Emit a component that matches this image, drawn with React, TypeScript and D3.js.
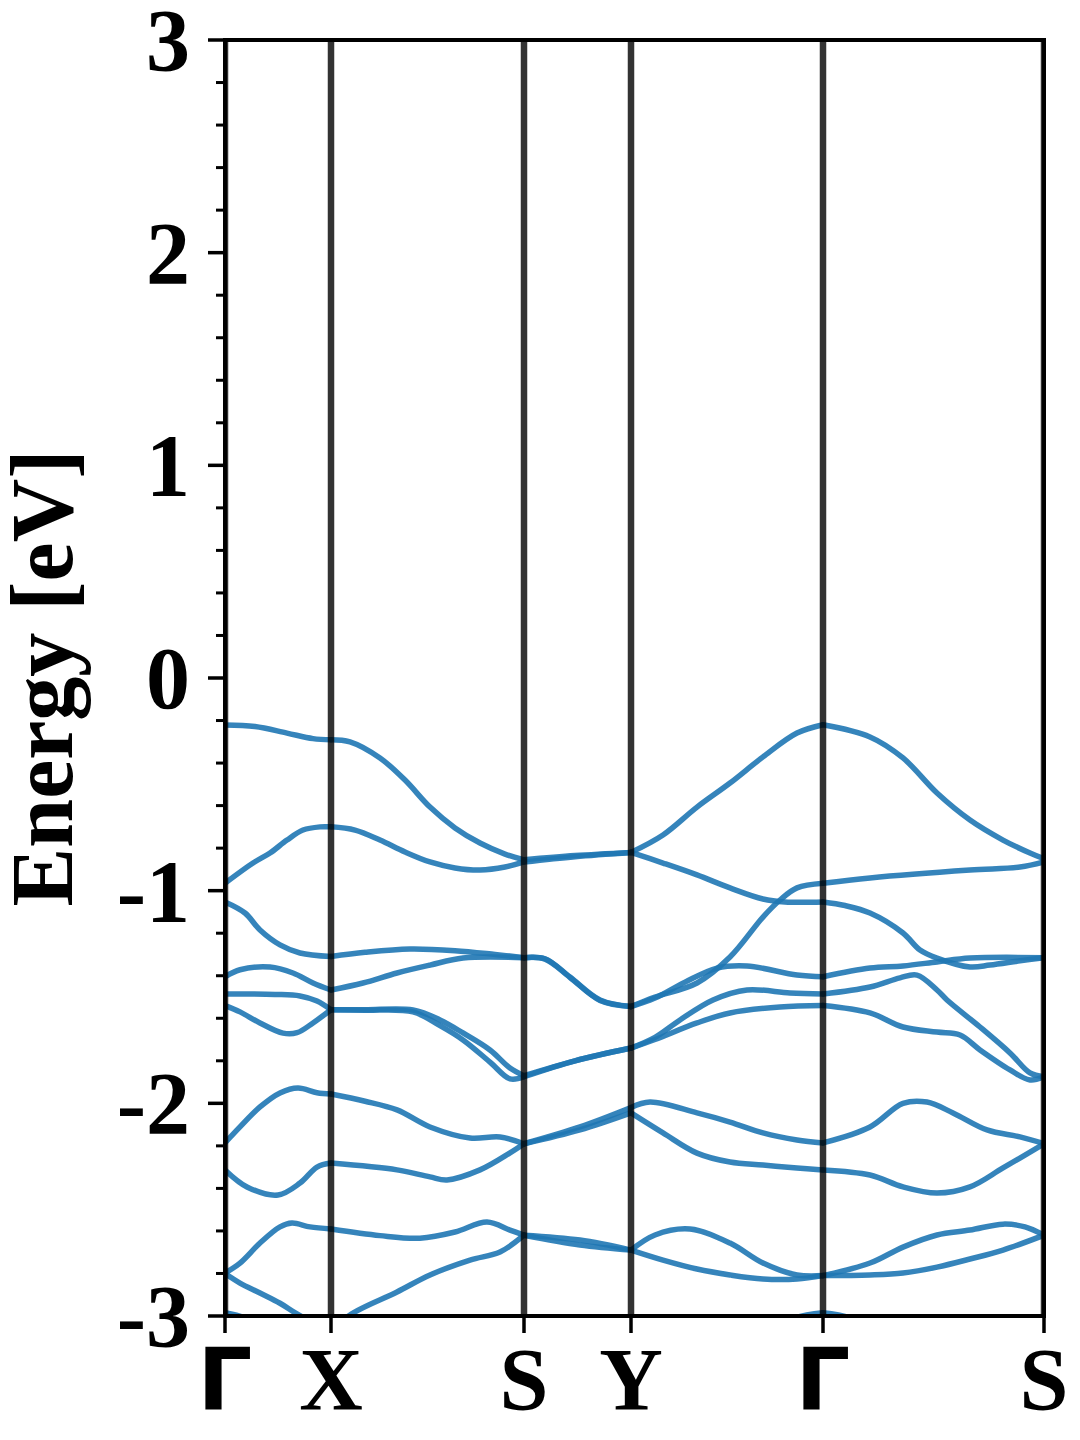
import React from 'react';
import * as d3 from 'd3';

// High-symmetry path (k distance, arbitrary units)
const kTicks = [0, 1.06, 2.99, 4.06, 5.98, 8.19];
const kLabels = ['Γ', 'X', 'S', 'Y', 'Γ', 'S'];
const yTicks = [-3, -2, -1, 0, 1, 2, 3];
const yTickLabels = ['-3', '-2', '-1', '0', '1', '2', '3'];
const yMinorTicks = [-2.8, -2.6, -2.4, -2.2, -1.8, -1.6, -1.4, -1.2, -0.8, -0.6, -0.4, -0.2,
  0.2, 0.4, 0.6, 0.8, 1.2, 1.4, 1.6, 1.8, 2.2, 2.4, 2.6, 2.8];
const yLabel = 'Energy [eV]';

// Bands: [k, E(eV)]
const band1: [number, number][] = [
  [0, -0.221], [0.3, -0.228], [0.62, -0.259], [0.88, -0.285], [1.06, -0.29],
  [1.25, -0.30], [1.55, -0.376], [1.8, -0.48], [2.05, -0.607], [2.3, -0.705], [2.55, -0.776], [2.8, -0.828], [2.99, -0.855],
  [3.5, -0.835], [4.06, -0.82],
  [4.38, -0.738], [4.72, -0.607], [5.05, -0.494], [5.38, -0.371], [5.72, -0.259], [5.98, -0.22],
  [6.45, -0.277], [6.78, -0.376], [7.12, -0.541], [7.45, -0.668], [7.78, -0.762], [8.05, -0.823], [8.19, -0.85],
];
const band2: [number, number][] = [
  [0, -0.965], [0.28, -0.87], [0.45, -0.823], [0.62, -0.762], [0.78, -0.715], [0.95, -0.70], [1.06, -0.70],
  [1.3, -0.715], [1.55, -0.762], [1.8, -0.818], [2.05, -0.865], [2.3, -0.893], [2.55, -0.903], [2.8, -0.889], [2.99, -0.865],
  [3.5, -0.84], [4.06, -0.82],
  [4.38, -0.87], [4.72, -0.926], [5.05, -0.987], [5.38, -1.039], [5.6, -1.053], [5.98, -1.053],
  [6.2, -1.07], [6.45, -1.105], [6.78, -1.199], [6.95, -1.279], [7.12, -1.317], [7.45, -1.359], [7.65, -1.35], [7.95, -1.33], [8.19, -1.315],
];
const band3: [number, number][] = [
  [0, -1.053], [0.2, -1.105], [0.35, -1.185], [0.55, -1.255], [0.75, -1.293], [1.06, -1.31],
  [1.4, -1.29], [1.85, -1.274], [2.3, -1.282], [2.7, -1.30], [2.99, -1.315],
  [3.2, -1.32], [3.45, -1.406], [3.75, -1.514], [4.06, -1.545],
  [4.3, -1.50], [4.72, -1.434], [5.05, -1.312], [5.38, -1.124], [5.55, -1.044], [5.72, -0.987], [5.98, -0.965],
  [6.45, -0.94], [7.45, -0.903], [7.95, -0.889], [8.19, -0.865],
];
const band4: [number, number][] = [
  [0, -1.405], [0.15, -1.372], [0.45, -1.359], [0.68, -1.387], [0.88, -1.434], [1.06, -1.467],
  [1.38, -1.434], [1.72, -1.387], [2.05, -1.35], [2.38, -1.317], [2.99, -1.315],
  [3.2, -1.322], [3.45, -1.408], [3.75, -1.516], [4.06, -1.545],
  [4.3, -1.505], [4.6, -1.43], [4.92, -1.364], [5.22, -1.354], [5.72, -1.397], [5.98, -1.405],
  [6.45, -1.364], [6.78, -1.354], [7.12, -1.335], [7.45, -1.317], [8.19, -1.315],
];
const band5: [number, number][] = [
  [0, -1.486], [0.5, -1.488], [0.75, -1.495], [0.92, -1.519], [1.06, -1.56],
  [1.4, -1.56], [1.88, -1.561], [2.15, -1.608], [2.38, -1.669], [2.65, -1.749], [2.85, -1.834], [2.99, -1.87],
  [3.5, -1.80], [4.06, -1.74],
  [4.3, -1.69], [4.55, -1.608], [4.88, -1.514], [5.22, -1.467], [5.65, -1.481], [5.98, -1.486],
  [6.45, -1.453], [6.75, -1.41], [6.92, -1.397], [7.12, -1.467], [7.22, -1.514], [7.55, -1.641], [7.85, -1.763], [8.05, -1.857], [8.19, -1.875],
];
const band6: [number, number][] = [
  [0, -1.54], [0.15, -1.57], [0.35, -1.622], [0.58, -1.67], [0.72, -1.668], [0.88, -1.622], [1.06, -1.56],
  [1.4, -1.562], [1.88, -1.57], [2.15, -1.635], [2.38, -1.702], [2.65, -1.806], [2.85, -1.885], [2.99, -1.875],
  [3.5, -1.80], [4.06, -1.74],
  [4.3, -1.70], [4.72, -1.622], [5.05, -1.575], [5.55, -1.547], [5.98, -1.54],
  [6.45, -1.575], [6.78, -1.641], [7.12, -1.665], [7.35, -1.679], [7.55, -1.749], [7.85, -1.843], [8.05, -1.89], [8.19, -1.875],
];
const band7: [number, number][] = [
  [0, -2.186], [0.15, -2.111], [0.35, -2.017], [0.55, -1.951], [0.73, -1.928], [0.92, -1.95], [1.06, -1.956],
  [1.4, -1.99], [1.72, -2.031], [2.05, -2.111], [2.45, -2.163], [2.75, -2.158], [2.99, -2.19],
  [3.55, -2.111], [4.06, -2.02],
  [4.25, -1.994], [4.72, -2.045], [5.05, -2.088], [5.38, -2.139], [5.72, -2.172], [5.98, -2.186],
  [6.45, -2.111], [6.78, -2.0], [7.02, -1.994], [7.28, -2.045], [7.62, -2.125], [7.95, -2.158], [8.19, -2.19],
];
const band8: [number, number][] = [
  [0, -2.313], [0.22, -2.393], [0.53, -2.431], [0.75, -2.375], [0.92, -2.30], [1.06, -2.281],
  [1.72, -2.313], [2.05, -2.346], [2.22, -2.36], [2.55, -2.313], [2.85, -2.233], [2.99, -2.19],
  [3.55, -2.125], [4.06, -2.045],
  [4.38, -2.139], [4.72, -2.234], [5.05, -2.276], [5.38, -2.29], [5.72, -2.304], [5.98, -2.313],
  [6.45, -2.337], [6.78, -2.393], [7.12, -2.422], [7.45, -2.393], [7.78, -2.304], [8.19, -2.19],
];
const band9: [number, number][] = [
  [0, -2.798], [0.15, -2.751], [0.35, -2.657], [0.55, -2.581], [0.67, -2.563], [0.85, -2.581], [1.06, -2.591],
  [1.55, -2.622], [1.95, -2.634], [2.3, -2.605], [2.62, -2.558], [2.85, -2.596], [2.99, -2.62],
  [3.55, -2.666], [4.06, -2.69],
  [4.3, -2.619], [4.65, -2.591], [5.05, -2.657], [5.38, -2.751], [5.72, -2.807], [5.98, -2.81],
  [6.45, -2.751], [6.78, -2.676], [7.12, -2.619], [7.45, -2.596], [7.78, -2.568], [8.0, -2.581], [8.19, -2.62],
];
const band10: [number, number][] = [
  [0, -2.80], [0.15, -2.845], [0.35, -2.892], [0.55, -2.94], [0.72, -2.99], [1.06, -3.08],
  [1.25, -2.995], [1.72, -2.887], [2.05, -2.807], [2.45, -2.737], [2.75, -2.699], [2.99, -2.62],
  [3.55, -2.643], [4.06, -2.69],
  [4.38, -2.737], [4.72, -2.779], [5.05, -2.807], [5.38, -2.826], [5.72, -2.826], [5.98, -2.81],
  [6.45, -2.807], [6.78, -2.798], [7.12, -2.77], [7.45, -2.732], [7.78, -2.69], [8.19, -2.62],
];
const band11: [number, number][] = [
  [0, -2.985], [0.2, -3.01], [0.5, -3.1], [1.06, -3.25], [2.99, -3.4], [4.06, -3.35],
  [5.3, -3.12], [5.7, -3.01], [5.98, -2.985], [6.25, -3.01], [6.65, -3.12], [8.19, -3.4],
];
const bands = [band1, band2, band3, band4, band5, band6, band7, band8, band9, band10, band11];

const W = 1080;
const H = 1440;
const L = 225, R = 1044, T = 40, B = 1316;

export default function App() {
  const x = d3.scaleLinear().domain([kTicks[0], kTicks[kTicks.length - 1]]).range([L, R]);
  const y = d3.scaleLinear().domain([-3, 3]).range([B, T]);
  const line = d3.line<[number, number]>()
    .x((d) => x(d[0]))
    .y((d) => y(d[1]))
    .curve(d3.curveCatmullRom.alpha(0.5));
  const serif = "'Liberation Serif', 'Times New Roman', serif";

  // split each band into path segments between high-symmetry points
  const segPaths: string[] = [];
  bands.forEach((b) => {
    for (let i = 0; i < kTicks.length - 1; i++) {
      const pts = b.filter((p) => p[0] >= kTicks[i] - 1e-9 && p[0] <= kTicks[i + 1] + 1e-9);
      if (pts.length >= 2) segPaths.push(line(pts) || '');
    }
  });

  return (
    <svg width={W} height={H} viewBox={`0 0 ${W} ${H}`}
      style={{ position: 'absolute', left: 0, top: 0, background: '#fff' }}>
      <rect x={0} y={0} width={W} height={H} fill="#fff" />
      <defs>
        <clipPath id="plotClip">
          <rect x={L} y={T} width={R - L} height={B - T} />
        </clipPath>
      </defs>
      <g clipPath="url(#plotClip)">
        {segPaths.map((d, i) => (
          <path key={i} d={d} fill="none" stroke="#1f77b4"
            strokeWidth={5.5} strokeOpacity={0.9} strokeLinejoin="round" strokeLinecap="round" />
        ))}
        {kTicks.map((k, i) => (
          <line key={i} x1={x(k)} x2={x(k)} y1={T} y2={B} stroke="#000" strokeOpacity={0.8} strokeWidth={6.5} />
        ))}
      </g>
      {/* spines */}
      <rect x={L} y={T} width={R - L} height={B - T} fill="none" stroke="#000" strokeWidth={4} />
      {/* y ticks */}
      {yTicks.map((t) => (
        <line key={'M' + t} x1={L - 17} x2={L} y1={y(t)} y2={y(t)} stroke="#000" strokeWidth={3.5} />
      ))}
      {yMinorTicks.map((t) => (
        <line key={'m' + t} x1={L - 9} x2={L} y1={y(t)} y2={y(t)} stroke="#000" strokeWidth={3} />
      ))}
      {yTicks.map((t, i) => (
        <text key={'l' + t} x={190} y={y(t) + 30} textAnchor="end" fontFamily={serif}
          fontWeight="bold" fontSize={88} fill="#000">{yTickLabels[i]}</text>
      ))}
      {/* x ticks */}
      {kTicks.map((k, i) => (
        <line key={'xt' + i} x1={x(k)} x2={x(k)} y1={B} y2={B + 17} stroke="#000" strokeWidth={3.5} />
      ))}
      {kTicks.map((k, i) => (
        <text key={'xl' + i} x={x(k)} y={1409} textAnchor="middle"
          fontFamily={kLabels[i] === 'Γ' ? "'DejaVu Sans', sans-serif" : serif}
          fontWeight="bold" fontSize={kLabels[i] === 'Γ' ? 86 : 88} fill="#000">{kLabels[i]}</text>
      ))}
      <text transform={`translate(72, ${(T + B) / 2}) rotate(-90)`} textAnchor="middle"
        fontFamily={serif} fontWeight="bold" fontSize={88} fill="#000">{yLabel}</text>
    </svg>
  );
}
